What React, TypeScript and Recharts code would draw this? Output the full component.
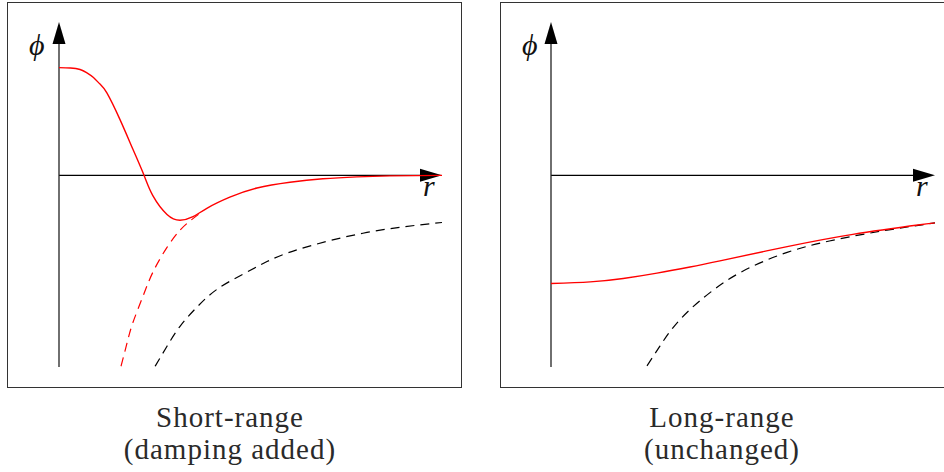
import { LineChart, Line, XAxis, YAxis, ReferenceLine } from 'recharts';

// left panel (short-range, damping added)
const shortDamped = [
  { r: 0, phi: 2.81 },
  { r: 0.3, phi: 2.8 },
  { r: 0.55, phi: 2.76 },
  { r: 0.72, phi: 2.68 },
  { r: 0.9, phi: 2.55 },
  { r: 1.07, phi: 2.38 },
  { r: 1.25, phi: 2.15 },
  { r: 1.59, phi: 1.46 },
  { r: 1.93, phi: 0.68 },
  { r: 2.22, phi: 0 },
  { r: 2.45, phi: -0.53 },
  { r: 2.82, phi: -1.02 },
  { r: 3.16, phi: -1.17 },
  { r: 3.5, phi: -1.08 },
  { r: 3.86, phi: -0.86 },
  { r: 4.46, phi: -0.57 },
  { r: 5.17, phi: -0.33 },
  { r: 6.03, phi: -0.18 },
  { r: 6.89, phi: -0.09 },
  { r: 7.78, phi: -0.04 },
  { r: 8.64, phi: -0.015 },
  { r: 10, phi: 0 },
];

const shortUndamped = [
  { r: 1.62, phi: -4.98 },
  { r: 1.78, phi: -4.36 },
  { r: 1.93, phi: -3.84 },
  { r: 2.19, phi: -3.16 },
  { r: 2.45, phi: -2.53 },
  { r: 2.82, phi: -1.88 },
  { r: 3.16, phi: -1.43 },
  { r: 3.42, phi: -1.19 },
  { r: 3.68, phi: -0.99 },
];

const shortBare = [
  { r: 2.51, phi: -4.98 },
  { r: 2.82, phi: -4.46 },
  { r: 3.16, phi: -3.94 },
  { r: 3.6, phi: -3.44 },
  { r: 4.13, phi: -2.97 },
  { r: 4.8, phi: -2.58 },
  { r: 5.43, phi: -2.25 },
  { r: 6.29, phi: -1.92 },
  { r: 8.04, phi: -1.49 },
  { r: 10, phi: -1.23 },
];

// right panel (long-range, unchanged)
const longSmoothed = [
  { r: 0, phi: -2.82 },
  { r: 1.02, phi: -2.78 },
  { r: 1.88, phi: -2.69 },
  { r: 2.76, phi: -2.55 },
  { r: 3.62, phi: -2.39 },
  { r: 4.4, phi: -2.23 },
  { r: 6.15, phi: -1.86 },
  { r: 7.86, phi: -1.54 },
  { r: 9.61, phi: -1.29 },
  { r: 10, phi: -1.24 },
];

const longBare = [
  { r: 2.5, phi: -4.97 },
  { r: 2.84, phi: -4.45 },
  { r: 3.18, phi: -3.97 },
  { r: 3.62, phi: -3.5 },
  { r: 4.14, phi: -3.06 },
  { r: 4.92, phi: -2.54 },
  { r: 6.15, phi: -2.01 },
  { r: 7.45, phi: -1.67 },
  { r: 8.75, phi: -1.43 },
  { r: 10, phi: -1.24 },
];

const R_DOMAIN = [0, 10];
const PHI_DOMAIN = [-5, 4];

const serif = '"Liberation Serif", "DejaVu Serif", serif';

// axis line with a filled arrow head at its end
function ArrowAxis(props: any) {
  const { x1, y1, x2, y2, stroke } = props;
  const dx = x2 - x1;
  const dy = y2 - y1;
  const len = Math.sqrt(dx * dx + dy * dy) || 1;
  const ux = dx / len;
  const uy = dy / len;
  const headLen = 22;
  const headHalf = 6.5;
  const bx = x2 - ux * headLen;
  const by = y2 - uy * headLen;
  const pts = [
    `${x2},${y2}`,
    `${bx - uy * headHalf},${by + ux * headHalf}`,
    `${bx + uy * headHalf},${by - ux * headHalf}`,
  ].join(' ');
  return (
    <g>
      <line x1={x1} y1={y1} x2={bx + ux * 2} y2={by + uy * 2} stroke={stroke} strokeWidth={1.3} />
      <polygon points={pts} fill="#000" />
    </g>
  );
}

function Panel({
  left,
  width,
  margin,
  children,
}: {
  left: number;
  width: number;
  margin: { top: number; right: number; bottom: number; left: number };
  children: any;
}) {
  return (
    <div style={{ position: 'absolute', left, top: 0 }}>
      <LineChart width={width} height={400} margin={margin}>
        <XAxis dataKey="r" type="number" domain={R_DOMAIN} hide allowDataOverflow />
        <YAxis type="number" domain={PHI_DOMAIN} hide allowDataOverflow />
        <ReferenceLine
          segment={[{ x: 0, y: 0 }, { x: 10, y: 0 }]}
          stroke="#000"
          shape={ArrowAxis}
          ifOverflow="visible"
        />
        <ReferenceLine
          segment={[{ x: 0, y: -5 }, { x: 0, y: 4 }]}
          stroke="#222"
          shape={ArrowAxis}
          ifOverflow="visible"
        />
        {children}
      </LineChart>
    </div>
  );
}

const boxStyle = {
  position: 'absolute' as const,
  top: 2,
  height: 384,
  border: '1.3px solid #333',
  boxSizing: 'content-box' as const,
};

const labelStyle = {
  position: 'absolute' as const,
  fontFamily: serif,
  fontStyle: 'italic',
  fontSize: 30,
  lineHeight: '30px',
  color: '#111',
};

const captionStyle = {
  position: 'absolute' as const,
  top: 401,
  textAlign: 'center' as const,
  fontFamily: serif,
  fontSize: 29,
  lineHeight: '32px',
  letterSpacing: 1,
  color: '#2a2a2a',
};

export default function App() {
  return (
    <div
      style={{
        position: 'absolute',
        left: 0,
        top: 0,
        width: 944,
        height: 472,
        background: '#fff',
        overflow: 'hidden',
      }}
    >
      <div style={{ ...boxStyle, left: 7, width: 453 }} />
      <div style={{ ...boxStyle, left: 500, width: 460 }} />

      <Panel left={0} width={470} margin={{ top: 22, right: 28, bottom: 33, left: 59 }}>
        <Line data={shortBare} dataKey="phi" type="natural" stroke="#000" strokeWidth={1.2}
          strokeDasharray="9 6" dot={false} isAnimationActive={false} />
        <Line data={shortUndamped} dataKey="phi" type="natural" stroke="#ff0000" strokeWidth={1.2}
          strokeDasharray="9 6" dot={false} isAnimationActive={false} />
        <Line data={shortDamped} dataKey="phi" type="natural" stroke="#ff0000" strokeWidth={1.4}
          dot={false} isAnimationActive={false} />
      </Panel>

      <Panel left={490} width={454} margin={{ top: 22, right: 9, bottom: 33, left: 61 }}>
        <Line data={longBare} dataKey="phi" type="natural" stroke="#000" strokeWidth={1.2}
          strokeDasharray="9 6" dot={false} isAnimationActive={false} />
        <Line data={longSmoothed} dataKey="phi" type="natural" stroke="#ff0000" strokeWidth={1.4}
          dot={false} isAnimationActive={false} />
      </Panel>

      <div style={{ ...labelStyle, left: 29, top: 30 }}>ϕ</div>
      <div style={{ ...labelStyle, left: 423, top: 171 }}>r</div>
      <div style={{ ...labelStyle, left: 522, top: 30 }}>ϕ</div>
      <div style={{ ...labelStyle, left: 916, top: 171 }}>r</div>

      <div style={{ ...captionStyle, left: 30, width: 400 }}>
        Short-range
        <br />
        (damping added)
      </div>
      <div style={{ ...captionStyle, left: 522, width: 400 }}>
        Long-range
        <br />
        (unchanged)
      </div>
    </div>
  );
}
